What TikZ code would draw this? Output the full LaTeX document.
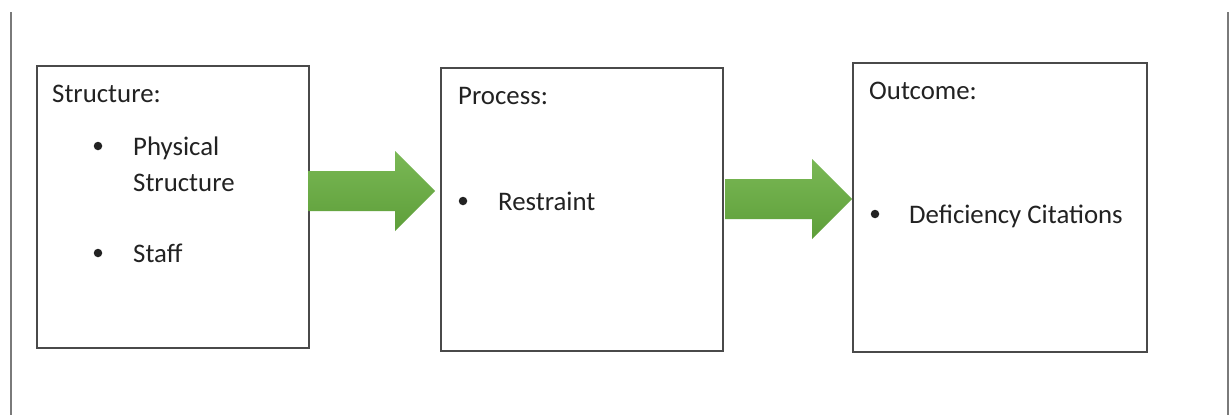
\documentclass[tikz,border=0pt]{standalone}
\usepackage{fontspec}
\setmainfont{Carlito}
\usetikzlibrary{calc}
\definecolor{framegray}{HTML}{4A4A4A}
\definecolor{rulegray}{HTML}{7A7A7A}
\definecolor{textgray}{HTML}{222222}
\definecolor{greentop}{HTML}{7AB855}
\definecolor{greenbot}{HTML}{5E9F3A}
\tikzset{
  stagebox/.style={draw=framegray, line width=1.7pt, anchor=north west, inner sep=0pt},
  label/.style={anchor=base west, yshift=-9pt, inner sep=0pt, text=textgray, font=\fontsize{26.8}{30}\selectfont},
  dot/.style={circle, fill=textgray, minimum size=8.5pt, inner sep=0pt},
  sidebar/.style={draw=rulegray, line width=1.4pt},
  blockfill/.style={top color=greentop, bottom color=greenbot, draw=none}
}
% block arrow from one coordinate to another (horizontal): shaft half 20, head half 40, head length 40
\newcommand\blockarrow[2]{%
  \path[blockfill] let \p1=(#1), \p2=(#2) in
    (\x1,\y1+20pt) -- (\x2-40pt,\y1+20pt) -- (\x2-40pt,\y1+40pt) -- (\x2,\y1)
    -- (\x2-40pt,\y1-40pt) -- (\x2-40pt,\y1-20pt) -- (\x1,\y1-20pt) -- cycle;}
\begin{document}
\begin{tikzpicture}[x=1pt,y=-1pt]
\useasboundingbox (0,0) rectangle (1230,415);
\fill[white] (0,0) rectangle (1230,415);

% page rules at both sides
\coordinate (lt) at (11,12);
\coordinate (lb) at (11,415);
\coordinate (rt) at (1228,12);
\coordinate (rb) at (1228,415);
\draw[sidebar] (lt) -- (lb);
\draw[sidebar] (rt) -- (rb);

% the three stages
\node[stagebox, minimum width=272pt, minimum height=282pt] (structure) at (36,65) {};
\node[stagebox, minimum width=282pt, minimum height=283pt] (process) at (440,67) {};
\node[stagebox, minimum width=294pt, minimum height=289pt] (outcome) at (852,62) {};

% arrows between stages
\coordinate (a1s) at (308,191);
\coordinate (a1e) at (435,191);
\coordinate (a2s) at (725,199);
\coordinate (a2e) at (852,199);
\blockarrow{a1s}{a1e}
\blockarrow{a2s}{a2e}

% Structure
\node[label] (st) at (52,93) {Structure:};
\node[dot] (b1) at (98,146) {};
\node[label] (t1) at (133,146) {Physical};
\node[label] (t1b) at (133,182) {Structure};
\node[dot] (b2) at (98,253) {};
\node[label] (t2) at (133,253) {Staff};

% Process
\node[label] (pr) at (458,95) {Process:};
\node[dot] (b3) at (463,201) {};
\node[label] (t3) at (498,201) {Restraint};

% Outcome
\node[label] (oc) at (869,90) {Outcome:};
\node[dot] (b4) at (875,214) {};
\node[label] (t4) at (909,214) {Deficiency Citations};
\end{tikzpicture}
\end{document}
